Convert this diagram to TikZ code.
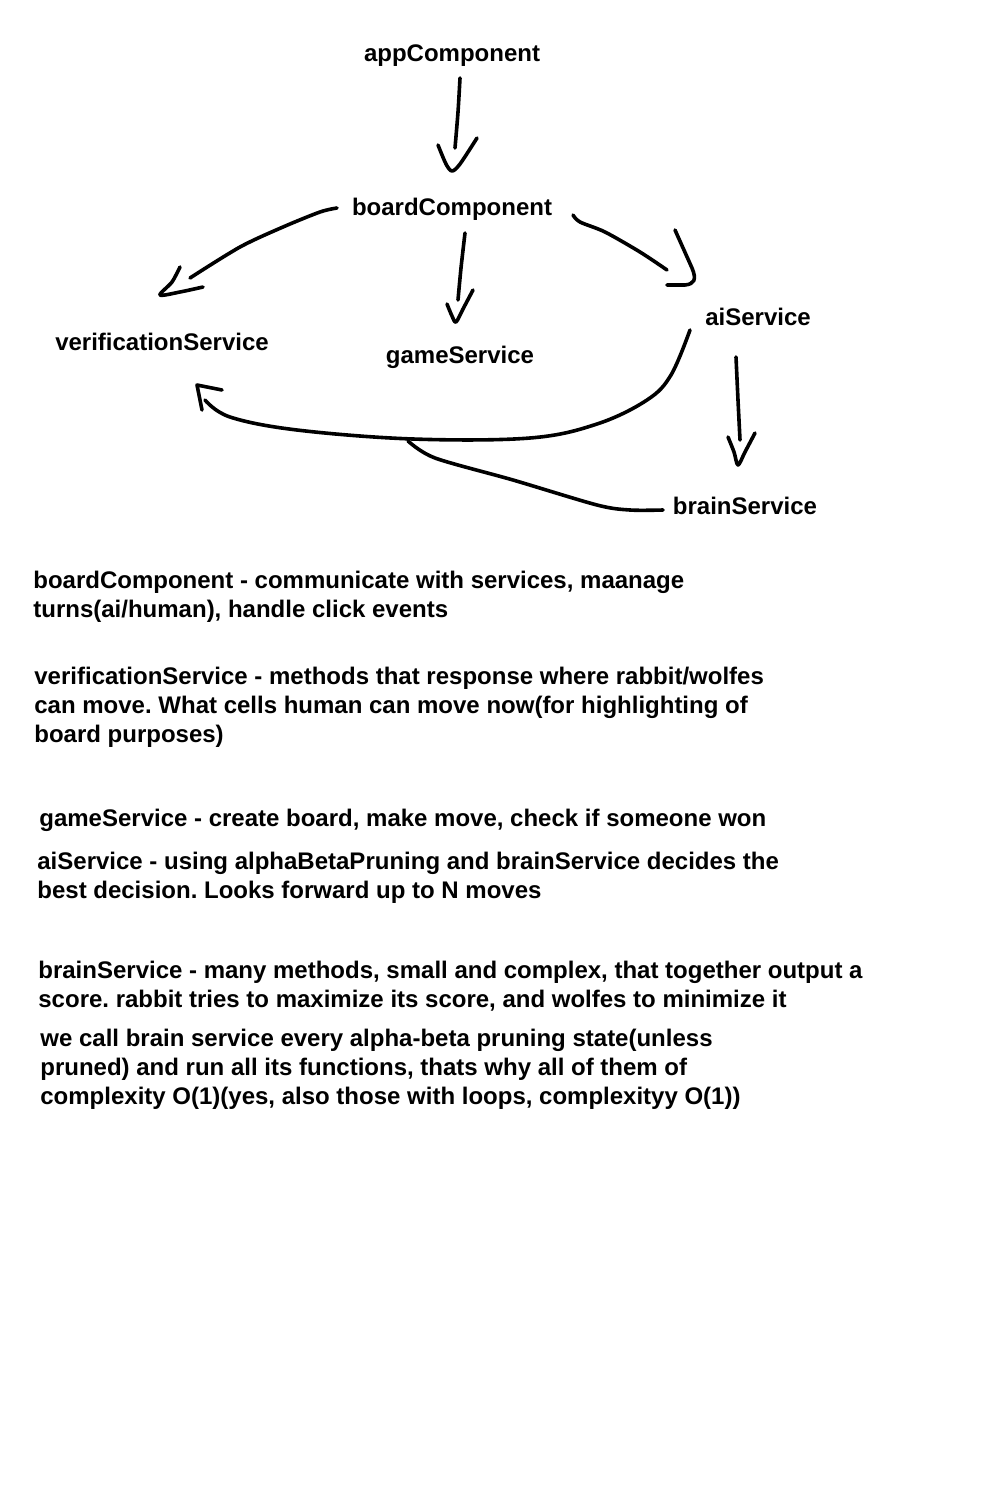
\documentclass[tikz,border=0pt]{standalone}
\usepackage{fontspec}
\setmainfont{Liberation Sans}
\frenchspacing
\begin{document}
\begin{tikzpicture}[x=0.5pt,y=-0.5pt,
  lbl/.style={font=\fontsize{12}{14.5}\selectfont\bfseries, inner sep=0pt, anchor=base},
  txt/.style={font=\fontsize{12}{14.5}\selectfont\bfseries, inner sep=0pt, anchor=base west},
  pen/.style={line width=1.8pt, line cap=round, line join=round}]
\useasboundingbox[fill=white] (0,0) rectangle (1000,1500);

% diagram labels
\node[lbl] (app) at (452,61) {appComponent};
\node[lbl] (board) at (452,215) {boardComponent};
\node[lbl] (verif) at (162,350) {verificationService};
\node[lbl] (game) at (460,363) {gameService};
\node[lbl] (ai) at (758,325) {aiService};
\node[lbl] (brain) at (745,514) {brainService};

% named connector ends
\coordinate (appS) at (460,78);
\coordinate (appE) at (455,148);
\coordinate (bvS) at (337,208);
\coordinate (bvE) at (190,278);
\coordinate (bgS) at (465,233);
\coordinate (bgE) at (458,300);
\coordinate (baS) at (573,215);
\coordinate (baE) at (667,270);
\coordinate (abS) at (736,357);
\coordinate (abE) at (740,440);
\coordinate (avS) at (690,330);
\coordinate (avE) at (205,400);
\coordinate (brS) at (663,510);
\coordinate (brE) at (408,441);

% appComponent -> boardComponent
\draw[pen] plot[smooth] coordinates {(appS) (458,112) (appE)};
\draw[pen] plot[smooth] coordinates {(438,145) (446,164) (452,171) (460,164) (477,138)};

% boardComponent -> verificationService
\draw[pen] plot[smooth] coordinates {(bvS) (320,212) (283,227) (240,247) (bvE)};
\draw[pen] plot[smooth] coordinates {(180,267) (172,282) (160,295) (180,292) (203,287)};

% boardComponent -> gameService
\draw[pen] plot[smooth] coordinates {(bgS) (461,268) (bgE)};
\draw[pen] plot[smooth] coordinates {(447,304) (452,316) (456,322) (463,309) (473,290)};

% boardComponent -> aiService
\draw[pen] plot[smooth] coordinates {(baS) (580,222) (605,232) (640,252) (baE)};
\draw[pen] (675,230) -- (692,268) .. controls (697,280) and (694,284) .. (685,285) -- (667,285);

% aiService -> brainService
\draw[pen] plot[smooth] coordinates {(abS) (738,400) (abE)};
\draw[pen] plot[smooth] coordinates {(728,437) (734,452) (738,465) (745,452) (755,433)};

% aiService -> verificationService
\draw[pen] plot[smooth, tension=0.6] coordinates {(avS) (671,375) (647,400) (597,424) (530,438) (413,439) (297,430) (230,417) (avE)};
\draw[pen] (222,390) -- (197,385) -- (202,410);

% brainService -> (joins curve)
\draw[pen] plot[smooth] coordinates {(brS) (630,510) (597,505) (513,480) (435,458) (brE)};

% description text
\node[txt] (p1a) at (33,588) {boardComponent - communicate with services, maanage};
\node[txt] (p1b) at (33,617) {turns(ai/human), handle click events};

\node[txt] (p2a) at (34,684) {verificationService - methods that response where rabbit/wolfes};
\node[txt] (p2b) at (34,713) {can move. What cells human can move now(for highlighting of};
\node[txt] (p2c) at (34,742) {board purposes)};

\node[txt] (p3a) at (39,826) {gameService - create board, make move, check if someone won};

\node[txt] (p4a) at (37,869) {aiService - using alphaBetaPruning and brainService decides the};
\node[txt] (p4b) at (37,898) {best decision. Looks forward up to N moves};

\node[txt] (p5a) at (38,978) {brainService - many methods, small and complex, that together output a};
\node[txt] (p5b) at (38,1007) {score. rabbit tries to maximize its score, and wolfes to minimize it};

\node[txt] (p6a) at (40,1046) {we call brain service every alpha-beta pruning state(unless};
\node[txt] (p6b) at (40,1075) {pruned) and run all its functions, thats why all of them of};
\node[txt] (p6c) at (40,1104) {complexity O(1)(yes, also those with loops, complexityy O(1))};
\end{tikzpicture}
\end{document}
